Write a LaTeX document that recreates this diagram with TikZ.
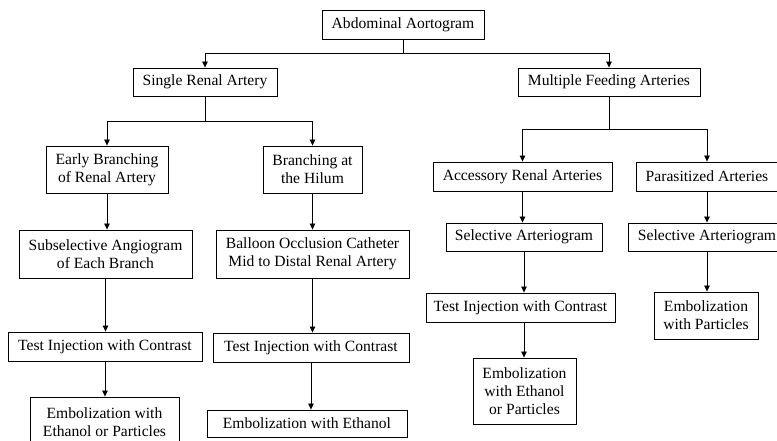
\documentclass[tikz,border=0pt]{standalone}
\usepackage{fontspec}
\setmainfont{Liberation Serif}
\usetikzlibrary{arrows.meta}
\begin{document}
\begin{tikzpicture}[x=1pt,y=-1pt,
  box/.style={draw=black,line width=0.9pt,inner sep=0pt,align=center,
    font=\fontsize{15.6}{17.8}\selectfont},
  conn/.style={line width=0.8pt,-{Triangle[length=6pt,width=5.5pt]}},
  seg/.style={line width=0.8pt}]
\clip (0,0) rectangle (777,440);
\useasboundingbox (0,0) rectangle (777,440);
\fill[white] (0,0) rectangle (777,440);
% nodes
\node[box,minimum width=162pt,minimum height=29pt] (top) at (403,24.5) {Abdominal Aortogram};
\node[box,minimum width=144pt,minimum height=28pt] (single) at (205,82) {Single Renal Artery};
\node[box,minimum width=182pt,minimum height=28pt] (multi) at (609,82) {Multiple Feeding Arteries};
\node[box,minimum width=122pt,minimum height=47pt] (early) at (107,169.5) {Early Branching\\of Renal Artery};
\node[box,minimum width=99pt,minimum height=47pt] (hilum) at (312.5,169.5) {Branching at\\the Hilum};
\node[box,minimum width=173pt,minimum height=48pt] (subsel) at (105.5,254) {Subselective Angiogram\\of Each Branch};
\node[box,minimum width=193pt,minimum height=48pt] (balloon) at (312.5,254) {Balloon Occlusion Catheter\\Mid to Distal Renal Artery};
\node[box,minimum width=194pt,minimum height=29pt] (testL) at (105,346.5) {Test Injection with Contrast};
\node[box,minimum width=196pt,minimum height=29pt] (testM) at (311,347.5) {Test Injection with Contrast};
\node[box,minimum width=149pt,minimum height=50pt] (embL) at (104.5,422) {Embolization with\\Ethanol or Particles};
\node[box,minimum width=200pt,minimum height=27pt] (embM) at (307,423.5) {Embolization with Ethanol};
\node[box,minimum width=179pt,minimum height=29pt] (acc) at (522.5,176.5) {Accessory Renal Arteries};
\node[box,minimum width=142pt,minimum height=29pt] (para) at (707,176.5) {Parasitized Arteries};
\node[box,minimum width=156pt,minimum height=28pt] (selL) at (524,237) {Selective Arteriogram};
\node[box,minimum width=158pt,minimum height=28pt] (selR) at (707,237) {Selective Arteriogram};
\node[box,minimum width=189pt,minimum height=29pt] (testR) at (520.5,307.5) {Test Injection with Contrast};
\node[box,minimum width=103pt,minimum height=66pt] (embR) at (524.5,391) {Embolization\\with Ethanol\\or Particles};
\node[box,minimum width=104pt,minimum height=47pt] (embP) at (706,315.5) {Embolization\\with Particles};
% junction coordinates
\coordinate (j0) at (403,53);
\coordinate (j1) at (205,121);
\coordinate (j2) at (609,129);
% top split
\draw[seg] (top.south) -- (j0);
\draw[conn] (j0) -| (single.north);
\draw[conn] (j0) -| (multi.north);
% single split
\draw[seg] (single.south) -- (j1);
\draw[conn] (j1) -| (early.north);
\draw[conn] (j1) -| (hilum.north);
% multi split
\draw[seg] (multi.south) -- (j2);
\draw[conn] (j2) -| (acc.north);
\draw[conn] (j2) -| (para.north);
% left chain
\draw[conn] (early.south) -- (early.south |- subsel.north);
\draw[conn] (subsel.south) -- (subsel.south |- testL.north);
\draw[conn] (testL.south) -- (testL.south |- embL.north);
% middle chain
\draw[conn] (hilum.south) -- (hilum.south |- balloon.north);
\draw[conn] (balloon.south) -- (balloon.south |- testM.north);
\draw[conn] (testM.south) -- (testM.south |- embM.north);
% right chains
\draw[conn] (acc.south) -- (acc.south |- selL.north);
\draw[conn] (selL.south) -- (selL.south |- testR.north);
\draw[conn] (selL.south |- testR.south) -- (selL.south |- embR.north);
\draw[conn] (para.south) -- (para.south |- selR.north);
\draw[conn] (selR.south) -- (selR.south |- embP.north);
\end{tikzpicture}
\end{document}
